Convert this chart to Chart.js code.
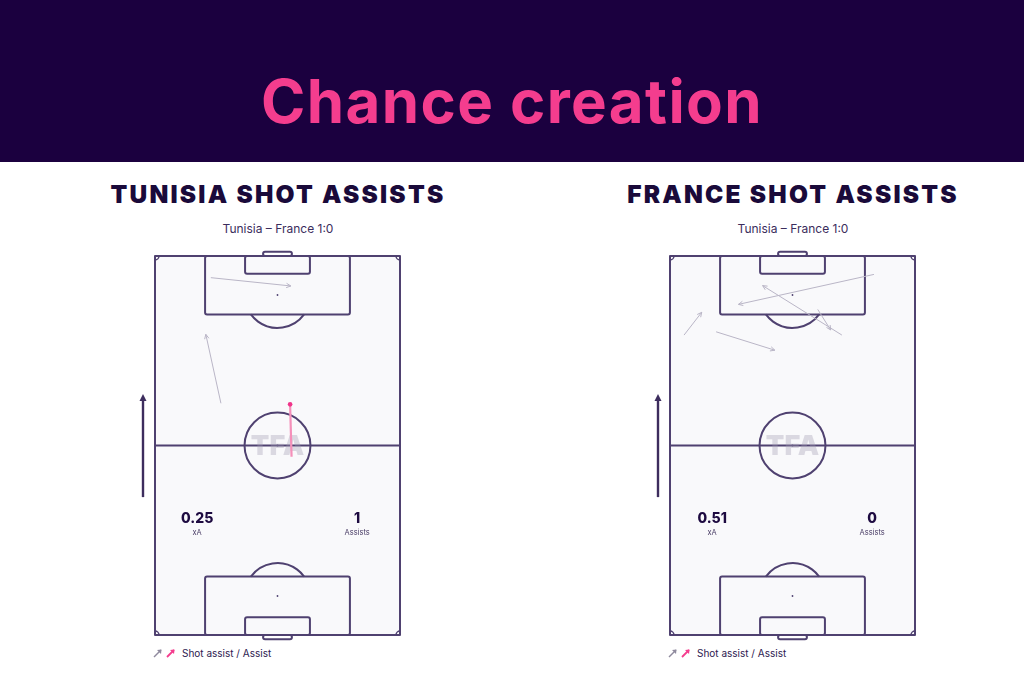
<!DOCTYPE html>
<html>
<head>
<meta charset="utf-8">
<script src="https://cdn.jsdelivr.net/npm/chart.js@4.4.1/dist/chart.umd.min.js"></script>
<style>
  html, body { margin: 0; padding: 0; background: #fff; }
  body { width: 1024px; height: 683px; position: relative; overflow: hidden; font-family: Inter, "Noto Sans", sans-serif; }
  .header { position: absolute; left: 0; top: 0; width: 1024px; height: 162px; background: #1b003f; }
  .txt { position: absolute; line-height: 1; white-space: nowrap; transform: translate(-50%, -50%); }
  .title { left: 512px; top: 101px; font-size: 60px; font-weight: 700; color: #f43d8e; letter-spacing: 1.4px; }
  .sub { top: 194px; font-size: 24.5px; font-weight: 900; color: #1a0a3a; letter-spacing: 2.2px; }
  .match { top: 229px; font-size: 12px; color: #3b2d5c; }
  .legend { position: absolute; top: 647px; font-size: 10px; color: #2d2050; display: flex; align-items: center; gap: 3px; }
  canvas { position: absolute; }
</style>
</head>
<body>
<div class="header"></div>
<div class="txt title">Chance creation</div>

<div class="txt sub" style="left:278px">TUNISIA SHOT ASSISTS</div>
<div class="txt match" style="left:278px">Tunisia – France 1:0</div>
<div class="txt sub" style="left:793px">FRANCE SHOT ASSISTS</div>
<div class="txt match" style="left:793px">Tunisia – France 1:0</div>

<canvas id="tun" width="275" height="399" style="left:135px;top:246px;width:275px;height:399px"></canvas>
<canvas id="fra" width="275" height="399" style="left:650px;top:246px;width:275px;height:399px"></canvas>

<div class="legend" style="left:153px">
  <svg width="10" height="10"><line x1="1" y1="9" x2="8" y2="2" stroke="#8f8a9e" stroke-width="1.5"/><path d="M4 2 L8.5 1.5 L8 6 Z" fill="#8f8a9e"/></svg>
  <svg width="10" height="10"><line x1="1" y1="9" x2="8" y2="2" stroke="#f43d8e" stroke-width="1.8"/><path d="M4 2 L8.5 1.5 L8 6 Z" fill="#f43d8e"/></svg>
  <span style="margin-left:3px">Shot assist / Assist</span>
</div>
<div class="legend" style="left:668px">
  <svg width="10" height="10"><line x1="1" y1="9" x2="8" y2="2" stroke="#8f8a9e" stroke-width="1.5"/><path d="M4 2 L8.5 1.5 L8 6 Z" fill="#8f8a9e"/></svg>
  <svg width="10" height="10"><line x1="1" y1="9" x2="8" y2="2" stroke="#f43d8e" stroke-width="1.8"/><path d="M4 2 L8.5 1.5 L8 6 Z" fill="#f43d8e"/></svg>
  <span style="margin-left:3px">Shot assist / Assist</span>
</div>

<script>
// pitch is 68 x 105 m, attacking upwards; each pass is [fromX, fromY, toX, toY]
const tunisiaShotAssists = [
  [15.5, 99.0, 37.7, 96.7],
  [18.3, 64.2, 14.1, 83.3]
]
const tunisiaAssists = [
  [37.9, 49.4, 37.5, 63.9]
]
const franceShotAssists = [
  [56.6, 99.9, 19.0, 91.6],
  [47.7, 83.1, 25.7, 96.8],
  [41.0, 90.2, 44.6, 84.5],
  [3.9, 83.1, 8.8, 89.4],
  [12.8, 84.0, 29.1, 78.9]
]
const franceAssists = []

const statLabels = ["xA", "Assists"]
const tunisiaStats = ["0.25", "1"]
const franceStats = ["0.51", "0"]

const LINE = "#4f4170"
const SHOT = "#bab6c7"
const PINK_LINE = "#f590ba"
const PINK = "#f0348a"

function passSets(shots, assists){
    const sets = []
    shots.forEach(p => sets.push({
        type: "line", kind: "shot",
        data: [{x: p[0], y: p[1]}, {x: p[2], y: p[3]}],
        borderColor: SHOT, borderWidth: 1, pointRadius: 0, fill: false, clip: false
    }))
    assists.forEach(p => sets.push({
        type: "line", kind: "assist",
        data: [{x: p[0], y: p[1]}, {x: p[2], y: p[3]}],
        borderColor: PINK_LINE, borderWidth: 2.2, pointRadius: 0, fill: false, clip: false
    }))
    return sets
}

const pitchPlugin = {
    id: "pitch",
    beforeDatasetsDraw(chart){
        const {ctx, chartArea, scales: {x, y}} = chart
        const X = v => x.getPixelForValue(v), Y = v => y.getPixelForValue(v)
        const m = Math.abs(X(1) - X(0))
        ctx.save()
        ctx.fillStyle = "#f9f9fb"
        ctx.fillRect(X(0), Y(105), X(68) - X(0), Y(0) - Y(105))

        ctx.strokeStyle = LINE
        ctx.lineWidth = 2
        ctx.lineJoin = "round"
        ctx.strokeRect(X(0), Y(105), X(68) - X(0), Y(0) - Y(105))
        ctx.beginPath(); ctx.moveTo(X(0), Y(52.5)); ctx.lineTo(X(68), Y(52.5)); ctx.stroke()
        ctx.beginPath(); ctx.arc(X(34), Y(52.5), 9.15 * m, 0, Math.PI * 2); ctx.stroke()

        const box = (x0, x1, y0, y1, r) => {
            ctx.beginPath()
            ctx.roundRect(X(x0), Math.min(Y(y0), Y(y1)), X(x1) - X(x0), Math.abs(Y(y1) - Y(y0)), r)
            ctx.stroke()
        }
        // top end
        box(13.9, 54.1, 88.8, 105, 2)
        box(25.0, 43.0, 100.1, 105, 2)
        box(30.0, 38.0, 105, 106.2, 2)
        // bottom end
        box(13.9, 54.1, 0, 16.2, 2)
        box(25.0, 43.0, 0, 4.9, 2)
        box(30.0, 38.0, -1.2, 0, 2)

        const a0 = Math.asin((16.2 - 10.8) / 9.15)
        ctx.beginPath(); ctx.arc(X(34), Y(94.2), 9.15 * m, a0, Math.PI - a0); ctx.stroke()
        ctx.beginPath(); ctx.arc(X(34), Y(10.8), 9.15 * m, Math.PI + a0, Math.PI * 2 - a0); ctx.stroke()

        ctx.lineWidth = 1.5
        const cr = 1.1 * m
        ctx.beginPath(); ctx.arc(X(0), Y(105), cr, 0, Math.PI / 2); ctx.stroke()
        ctx.beginPath(); ctx.arc(X(68), Y(105), cr, Math.PI / 2, Math.PI); ctx.stroke()
        ctx.beginPath(); ctx.arc(X(0), Y(0), cr, -Math.PI / 2, 0); ctx.stroke()
        ctx.beginPath(); ctx.arc(X(68), Y(0), cr, Math.PI, Math.PI * 1.5); ctx.stroke()

        ctx.fillStyle = LINE
        ;[94.2, 10.8, 52.5].forEach(v => { ctx.beginPath(); ctx.arc(X(34), Y(v), 0.9, 0, Math.PI * 2); ctx.fill() })

        // watermark
        ctx.fillStyle = "rgba(160,155,178,0.35)"
        ctx.font = "900 27px Inter, sans-serif"
        ctx.textAlign = "center"; ctx.textBaseline = "middle"
        ctx.fillText("TFA", X(34), Y(52.5) + 1)

        // stats
        const stats = chart.options.plugins.pitch.stats
        ctx.fillStyle = "#1d0a40"
        ctx.font = "800 14px Inter, sans-serif"
        ctx.fillText(stats[0], X(11.7), Y(32.1))
        ctx.fillText(stats[1], X(56.1), Y(32.1))
        ctx.fillStyle = "#4a3d66"
        ctx.font = "7.5px Inter, sans-serif"
        ctx.fillText(statLabels[0], X(11.7), Y(28.3))
        ctx.fillText(statLabels[1], X(56.1), Y(28.3))

        // direction of play
        const ax = chartArea.left - 12
        ctx.strokeStyle = "#3d2d5e"; ctx.fillStyle = "#3d2d5e"; ctx.lineWidth = 2.4
        ctx.beginPath(); ctx.moveTo(ax, Y(38.2)); ctx.lineTo(ax, Y(66.8) + 6); ctx.stroke()
        ctx.beginPath(); ctx.moveTo(ax - 3.5, Y(66.8) + 7); ctx.lineTo(ax, Y(66.8)); ctx.lineTo(ax + 3.5, Y(66.8) + 7); ctx.closePath(); ctx.fill()
        ctx.restore()
    },
    afterDatasetsDraw(chart){
        const {ctx, scales: {x, y}} = chart
        ctx.save()
        chart.data.datasets.forEach(ds => {
            const [p, q] = ds.data
            const x1 = x.getPixelForValue(p.x), y1 = y.getPixelForValue(p.y)
            const x2 = x.getPixelForValue(q.x), y2 = y.getPixelForValue(q.y)
            const ang = Math.atan2(y2 - y1, x2 - x1)
            if (ds.kind === "shot"){
                ctx.strokeStyle = SHOT; ctx.lineWidth = 1
                ctx.beginPath()
                ctx.moveTo(x2 - 5 * Math.cos(ang - 0.45), y2 - 5 * Math.sin(ang - 0.45))
                ctx.lineTo(x2, y2)
                ctx.lineTo(x2 - 5 * Math.cos(ang + 0.45), y2 - 5 * Math.sin(ang + 0.45))
                ctx.stroke()
            } else {
                ctx.fillStyle = PINK
                ctx.beginPath(); ctx.arc(x2, y2, 2.3, 0, Math.PI * 2); ctx.fill()
            }
        })
        ctx.restore()
    }
}

function pitchChart(id, shots, assists, stats){
    return new Chart(document.getElementById(id), {
        type: "scatter",
        data: { datasets: passSets(shots, assists) },
        options: {
            responsive: false,
            animation: false,
            events: [],
            layout: { padding: { left: 20, right: 10, top: 10, bottom: 10 } },
            scales: {
                x: { type: "linear", min: 0, max: 68, display: false },
                y: { type: "linear", min: 0, max: 105, display: false }
            },
            plugins: { legend: { display: false }, tooltip: { enabled: false }, pitch: { stats: stats } }
        },
        plugins: [pitchPlugin]
    })
}

pitchChart("tun", tunisiaShotAssists, tunisiaAssists, tunisiaStats)
pitchChart("fra", franceShotAssists, franceAssists, franceStats)
</script>
</body>
</html>
